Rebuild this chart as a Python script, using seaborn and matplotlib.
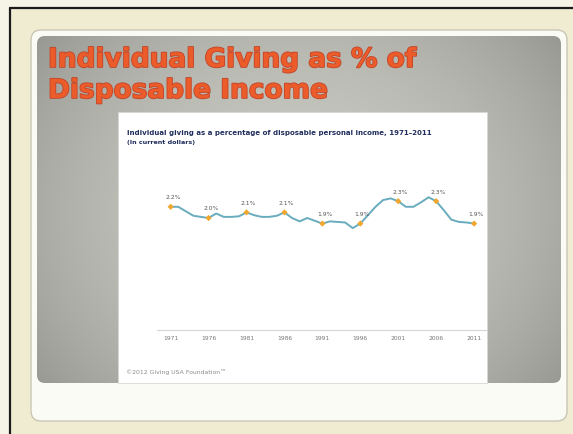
import numpy as np
import pandas as pd
import matplotlib
matplotlib.use("Agg")
import matplotlib.pyplot as plt
import seaborn as sns
from matplotlib.patches import FancyBboxPatch, Rectangle
from matplotlib import patheffects as pe

# ---- data -------------------------------------------------------------
years = list(range(1971, 2012))
giving_pct = [2.20, 2.20, 2.12, 2.04, 2.02, 2.00, 2.08, 2.02, 2.02, 2.03,
              2.10, 2.05, 2.02, 2.02, 2.04, 2.10, 2.00, 1.94, 2.00, 1.95,
              1.90, 1.94, 1.93, 1.92, 1.82, 1.90, 2.05, 2.20, 2.32, 2.35,
              2.30, 2.20, 2.20, 2.28, 2.37, 2.30, 2.14, 1.97, 1.93, 1.92,
              1.90]
tick_years = [1971, 1976, 1981, 1986, 1991, 1996, 2001, 2006, 2011]
labeled_years = tick_years

slide_title_1 = "Individual Giving as % of"
slide_title_2 = "Disposable Income"
chart_title = "Individual giving as a percentage of disposable personal income, 1971\u20132011"
chart_subtitle = "(In current dollars)"
credit = "\u00a92012 Giving USA Foundation\u2122"

df = pd.DataFrame({"year": years, "pct": giving_pct})
marks = df[df["year"].isin(labeled_years)]

# ---- figure & slide background ---------------------------------------
sns.set_theme(style="white")
W, H = 573, 435
fig = plt.figure(figsize=(W / 100, H / 100), dpi=100)
fig.patch.set_facecolor("#efecd2")

bg = fig.add_axes([0, 0, 1, 1])
bg.set_xlim(0, W)
bg.set_ylim(H, 0)
bg.axis("off")

# outer frame lines
bg.add_patch(Rectangle((0, 0), W, 8, color="#f6f4e6", zorder=1))
bg.add_patch(Rectangle((0, 0), 9, H, color="#f6f4e6", zorder=1))
bg.plot([10, W], [8.5, 8.5], color="#1c1c1c", lw=1.6, zorder=2)
bg.plot([10, 10], [8.5, H], color="#1c1c1c", lw=1.6, zorder=2)

# white rounded card
card = FancyBboxPatch((31, 31), 536, 391, boxstyle="round,pad=0,rounding_size=10",
                      facecolor="#fbfbf6", edgecolor="#c9c6b4", lw=1.0, zorder=3)
bg.add_patch(card)

# grey gradient panel
px0, py0, pw, ph = 37, 37, 524, 347
gx = np.linspace(-1, 1, 300)
gy = np.linspace(-1, 1, 220)
GX, GY = np.meshgrid(gx, gy)
shade = 0.80 - 0.12 * GX ** 2 - 0.07 * (GY + 0.2) ** 2 + 0.03 * GY
rgb = np.dstack([shade * 0.98, shade * 0.99, shade * 0.95])
rgb = np.clip(rgb, 0, 1)
panel_clip = FancyBboxPatch((px0, py0), pw, ph, boxstyle="round,pad=0,rounding_size=8",
                            facecolor="none", edgecolor="none", zorder=4)
bg.add_patch(panel_clip)
im = bg.imshow(rgb, extent=(px0, px0 + pw, py0 + ph, py0), zorder=4, aspect="auto")
im.set_clip_path(panel_clip)

# white chart sheet
bg.add_patch(Rectangle((118, 113), 369, 271, facecolor="#ffffff",
                       edgecolor="#d8d8d2", lw=0.6, zorder=5))

# slide title
title_fx = [pe.withStroke(linewidth=1.2, foreground="#c0462a")]
bg.text(48, 68, slide_title_1, color="#ec5b2a", fontsize=19,
        fontweight="bold", family="DejaVu Sans", va="baseline", zorder=6,
        path_effects=title_fx)
bg.text(48, 99, slide_title_2, color="#ec5b2a", fontsize=19,
        fontweight="bold", family="DejaVu Sans", va="baseline", zorder=6,
        path_effects=title_fx)

# chart heading and credit
bg.text(127, 133, chart_title, color="#1f2d5c", fontsize=5.0, fontweight="bold",
        va="center", ha="left", zorder=6)
bg.text(127, 143, chart_subtitle, color="#1f2d5c", fontsize=4.6, fontweight="bold",
        va="center", ha="left", zorder=6)
bg.text(126, 372, credit, color="#8a8a8a", fontsize=4.4, va="center", ha="left", zorder=6)

# ---- line chart -------------------------------------------------------
ax = fig.add_axes([157 / W, 1 - 331 / H, 330 / W, 140 / H])
ax.set_facecolor("none")
ax.set_zorder(10)

sns.lineplot(data=df, x="year", y="pct", ax=ax, color="#68acbd", lw=1.4)
sns.scatterplot(data=marks, x="year", y="pct", ax=ax, color="#f1a62c",
                marker="D", s=10, edgecolor="none", zorder=5)
for _, r in marks.iterrows():
    ax.annotate(f"{r['pct']:.1f}%", (r["year"], r["pct"]), xytext=(1.5, 5.5),
                textcoords="offset points", ha="center", va="bottom",
                fontsize=4.3, color="#555555")

ax.set_xlim(1969.2, 2012.7)
ax.set_ylim(0, 2.5)
ax.set_xticks(tick_years)
ax.set_xticklabels([str(y) for y in tick_years], fontsize=4.3, color="#777777")
ax.set_yticks([])
ax.set_xlabel("")
ax.set_ylabel("")
ax.tick_params(axis="x", length=0, pad=3.5)
for s in ["top", "left", "right"]:
    ax.spines[s].set_visible(False)
ax.spines["bottom"].set_color("#d6d6d6")
ax.spines["bottom"].set_linewidth(0.8)

fig.savefig("out.png", dpi=100)
